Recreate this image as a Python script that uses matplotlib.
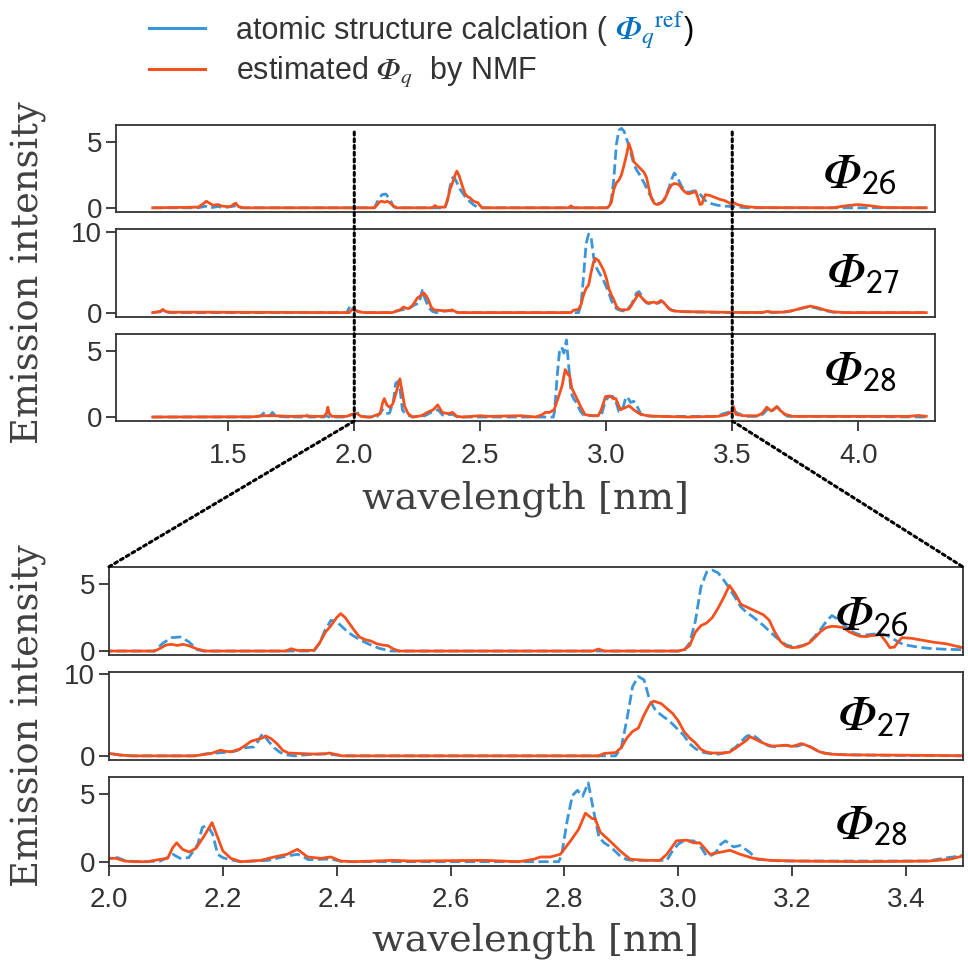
import matplotlib
matplotlib.use('Agg')
import matplotlib.pyplot as plt
from matplotlib.patches import ConnectionPatch

# ---- data (wavelength [nm], intensity) ----
ref26_wl = [1.20, 1.38, 1.41, 1.43, 1.46, 1.48, 1.53, 1.55, 2.08, 2.095, 2.11, 2.125, 2.14, 2.155, 2.165,
            2.36, 2.37, 2.38, 2.39, 2.40, 2.42, 2.44, 2.46, 2.475, 2.495, 3.01, 3.02, 3.03, 3.04, 3.05,
            3.06, 3.07, 3.08, 3.09, 3.10, 3.11, 3.12, 3.13, 3.14, 3.15, 3.16, 3.17, 3.18, 3.19, 3.20,
            3.21, 3.22, 3.23, 3.24, 3.25, 3.26, 3.27, 3.28, 3.29, 3.30, 3.31, 3.32, 3.33, 3.34, 3.35,
            3.36, 3.37, 3.38, 3.39, 3.40, 3.42, 3.44, 3.47, 3.50, 3.53, 3.56, 4.27]
ref26 = [0.0, 0.0, 0.12, 0.0, 0.1, 0.0, 0.15, 0.0, 0.0, 0.6, 1.0, 1.05, 0.7, 0.1, 0.0,
         0.0, 0.6, 1.6, 2.3, 2.2, 1.4, 0.85, 0.45, 0.2, 0.0, 0.0, 0.6, 2.2, 4.8, 5.9,
         6.05, 5.85, 5.3, 4.7, 4.0, 3.3, 2.9, 2.6, 2.25, 1.9, 1.5, 1.1, 0.75, 0.45, 0.35,
         0.35, 0.42, 0.65, 1.1, 1.6, 2.2, 2.65, 2.4, 2.0, 1.6, 1.35, 1.2, 1.2, 1.25, 1.3,
         1.25, 1.1, 0.85, 0.6, 0.45, 0.3, 0.2, 0.13, 0.1, 0.05, 0.0, 0.0]

nmf26_wl = [1.20, 1.38, 1.40, 1.413, 1.43, 1.44, 1.46, 1.47, 1.49, 1.51, 1.52, 1.53, 1.54, 1.56,
            2.08, 2.09, 2.10, 2.11, 2.12, 2.13, 2.14, 2.155, 2.17, 2.31, 2.32, 2.33, 2.36, 2.37,
            2.38, 2.39, 2.40, 2.407, 2.415, 2.43, 2.44, 2.45, 2.46, 2.47, 2.48, 2.49, 2.50, 2.51,
            2.85, 2.86, 2.87, 3.00, 3.01, 3.02, 3.03, 3.04, 3.05, 3.06, 3.07, 3.08, 3.09, 3.10,
            3.11, 3.12, 3.13, 3.14, 3.15, 3.16, 3.17, 3.18, 3.19, 3.20, 3.21, 3.22, 3.23, 3.24,
            3.25, 3.26, 3.27, 3.28, 3.29, 3.30, 3.31, 3.32, 3.33, 3.34, 3.35, 3.355, 3.365, 3.372,
            3.38, 3.385, 3.393, 3.41, 3.43, 3.45, 3.47, 3.49, 3.50, 3.505, 3.52, 3.55, 3.60, 3.90,
            3.95, 4.00, 4.05, 4.10, 4.27]
nmf26 = [0.0, 0.05, 0.3, 0.5, 0.3, 0.2, 0.25, 0.15, 0.1, 0.1, 0.25, 0.35, 0.1, 0.0,
         0.0, 0.2, 0.45, 0.5, 0.42, 0.5, 0.4, 0.15, 0.0, 0.0, 0.17, 0.05, 0.05, 0.6,
         1.4, 1.9, 2.5, 2.8, 2.5, 1.6, 1.05, 0.85, 0.75, 0.55, 0.45, 0.4, 0.15, 0.0,
         0.0, 0.15, 0.0, 0.0, 0.1, 0.4, 1.4, 1.9, 2.1, 2.5, 3.2, 4.0, 4.9, 4.3,
         3.5, 3.3, 3.1, 2.9, 2.7, 2.3, 1.4, 0.7, 0.35, 0.25, 0.28, 0.4, 0.6, 1.0,
         1.45, 1.75, 1.85, 1.82, 1.75, 1.45, 1.25, 1.1, 1.08, 1.15, 1.2, 1.25, 0.7, 0.25,
         0.3, 0.6, 1.0, 0.95, 0.8, 0.65, 0.55, 0.35, 0.25, 0.4, 0.25, 0.1, 0.02, 0.0,
         0.15, 0.25, 0.15, 0.02, 0.0]

ref27_wl = [1.20, 1.23, 1.24, 1.25, 1.27, 1.97, 1.985, 2.00, 2.02, 2.04, 2.15, 2.17, 2.20, 2.22,
            2.24, 2.255, 2.262, 2.27, 2.28, 2.29, 2.30, 2.31, 2.325, 2.35, 2.38, 2.40, 2.42, 2.89,
            2.90, 2.91, 2.92, 2.93, 2.94, 2.95, 2.96, 2.97, 2.98, 2.99, 3.00, 3.01, 3.02, 3.03,
            3.04, 3.05, 3.06, 3.07, 3.08, 3.09, 3.10, 3.11, 3.12, 3.13, 3.14, 3.15, 3.16, 3.17,
            3.18, 3.19, 3.20, 3.21, 3.22, 3.23, 3.24, 3.25, 3.26, 3.28, 3.35, 3.50, 3.62, 3.64,
            3.66, 3.72, 3.76, 3.80, 3.83, 3.86, 3.90, 3.95, 4.27]
ref27 = [0.0, 0.1, 0.3, 0.1, 0.0, 0.0, 0.9, 0.3, 0.1, 0.0, 0.0, 0.25, 0.4, 0.55,
         1.0, 1.1, 1.8, 2.75, 1.8, 1.0, 0.45, 0.15, 0.0, 0.15, 0.25, 0.1, 0.0, 0.0,
         1.0, 4.5, 8.5, 9.7, 9.3, 6.8, 5.6, 5.0, 4.5, 3.9, 3.2, 2.5, 1.5, 0.9,
         0.5, 0.35, 0.25, 0.2, 0.35, 0.6, 1.0, 1.7, 2.4, 2.6, 2.1, 1.5, 1.2, 1.1,
         1.25, 1.3, 1.15, 1.2, 1.45, 1.2, 0.8, 0.5, 0.3, 0.15, 0.08, 0.0, 0.0, 0.1,
         0.0, 0.1, 0.4, 0.7, 0.6, 0.3, 0.05, 0.0, 0.0]

nmf27_wl = [1.20, 1.23, 1.24, 1.25, 1.27, 1.40, 1.98, 1.995, 2.00, 2.02, 2.04, 2.15, 2.17, 2.18,
            2.19, 2.196, 2.205, 2.215, 2.23, 2.24, 2.25, 2.26, 2.27, 2.275, 2.285, 2.295, 2.305, 2.315,
            2.33, 2.36, 2.38, 2.387, 2.40, 2.41, 2.86, 2.87, 2.89, 2.90, 2.91, 2.92, 2.93, 2.94,
            2.95, 2.957, 2.97, 2.98, 2.99, 3.00, 3.01, 3.02, 3.03, 3.04, 3.05, 3.06, 3.08, 3.09,
            3.10, 3.11, 3.12, 3.126, 3.135, 3.145, 3.155, 3.165, 3.18, 3.19, 3.20, 3.21, 3.216, 3.225,
            3.235, 3.245, 3.255, 3.27, 3.30, 3.40, 3.50, 3.62, 3.64, 3.66, 3.70, 3.74, 3.78, 3.81,
            3.84, 3.87, 3.90, 3.95, 4.27]
nmf27 = [0.0, 0.15, 0.4, 0.15, 0.05, 0.05, 0.0, 0.5, 0.3, 0.1, 0.0, 0.0, 0.2, 0.3,
         0.55, 0.7, 0.55, 0.5, 0.85, 1.3, 1.8, 2.0, 2.2, 2.45, 2.1, 1.5, 0.7, 0.35,
         0.3, 0.22, 0.25, 0.35, 0.15, 0.0, 0.0, 0.3, 0.4, 1.0, 2.2, 3.0, 3.4, 5.0,
         6.3, 6.7, 6.4, 5.8, 5.2, 4.3, 3.0, 2.2, 1.6, 0.8, 0.45, 0.35, 0.35, 0.45,
         0.9, 1.4, 1.9, 2.35, 2.05, 1.7, 1.4, 1.2, 1.25, 1.3, 1.15, 1.35, 1.5, 1.3,
         1.0, 0.6, 0.35, 0.2, 0.12, 0.08, 0.02, 0.02, 0.15, 0.05, 0.05, 0.25, 0.6, 0.8,
         0.6, 0.3, 0.1, 0.0, 0.0]

ref28_wl = [1.20, 1.60, 1.63, 1.64, 1.65, 1.665, 1.675, 1.69, 1.74, 1.75, 1.76, 1.80, 1.81, 1.82,
            1.88, 1.89, 1.90, 1.97, 1.99, 2.00, 2.015, 2.03, 2.06, 2.09, 2.10, 2.112, 2.125, 2.14,
            2.15, 2.156, 2.164, 2.173, 2.182, 2.191, 2.20, 2.21, 2.23, 2.28, 2.30, 2.313, 2.331, 2.34,
            2.35, 2.39, 2.41, 2.79, 2.795, 2.805, 2.814, 2.823, 2.832, 2.842, 2.849, 2.855, 2.861, 2.87,
            2.881, 2.89, 2.898, 2.91, 2.92, 2.98, 2.99, 3.00, 3.01, 3.027, 3.038, 3.05, 3.06, 3.068,
            3.075, 3.083, 3.097, 3.109, 3.126, 3.138, 3.18, 3.44, 3.465, 3.495, 3.50, 3.52, 3.55, 3.60,
            3.62, 3.64, 3.655, 3.67, 3.68, 3.70, 3.72, 3.80, 4.27]
ref28 = [0.0, 0.0, 0.1, 0.3, 0.05, 0.1, 0.35, 0.05, 0.0, 0.15, 0.0, 0.0, 0.15, 0.0,
         0.0, 0.1, 0.0, 0.0, 0.2, 0.25, 0.3, 0.05, 0.0, 0.05, 0.25, 0.55, 0.25, 0.3,
         0.9, 1.3, 2.55, 2.7, 2.05, 0.55, 0.3, 0.18, 0.0, 0.1, 0.3, 0.42, 0.55, 0.4,
         0.15, 0.2, 0.0, 0.0, 0.45, 3.05, 4.9, 5.3, 4.85, 5.85, 4.3, 3.0, 1.8, 1.4,
         1.1, 0.75, 0.42, 0.15, 0.1, 0.1, 0.8, 1.3, 1.55, 1.55, 1.2, 0.42, 0.5, 0.8,
         1.3, 1.55, 1.1, 1.2, 0.68, 0.18, 0.05, 0.05, 0.25, 0.42, 0.5, 0.3, 0.05, 0.05,
         0.2, 0.6, 0.4, 0.65, 0.75, 0.3, 0.05, 0.05, 0.0]

nmf28_wl = [1.20, 1.60, 1.64, 1.68, 1.75, 1.81, 1.85, 1.88, 1.89, 1.895, 1.90, 1.91, 1.97, 1.99,
            2.00, 2.012, 2.027, 2.044, 2.068, 2.08, 2.091, 2.103, 2.112, 2.119, 2.129, 2.141, 2.153, 2.167,
            2.181, 2.191, 2.20, 2.214, 2.232, 2.267, 2.29, 2.313, 2.331, 2.349, 2.372, 2.39, 2.407, 2.43,
            2.50, 2.53, 2.66, 2.72, 2.746, 2.758, 2.775, 2.793, 2.811, 2.825, 2.837, 2.849, 2.854, 2.863,
            2.881, 2.898, 2.916, 2.945, 2.968, 2.98, 2.997, 3.015, 3.027, 3.038, 3.056, 3.074, 3.091, 3.109,
            3.132, 3.161, 3.208, 3.325, 3.442, 3.477, 3.50, 3.505, 3.515, 3.545, 3.60, 3.62, 3.637, 3.655,
            3.677, 3.69, 3.71, 3.74, 4.00, 4.20, 4.24, 4.27]
nmf28 = [0.0, 0.02, 0.1, 0.1, 0.05, 0.08, 0.05, 0.05, 0.3, 0.75, 0.3, 0.05, 0.05, 0.2,
         0.25, 0.25, 0.05, 0.0, 0.0, 0.1, 0.18, 0.25, 1.05, 1.4, 0.92, 0.72, 1.0, 1.9,
         2.9, 1.8, 0.8, 0.25, 0.0, 0.1, 0.35, 0.55, 0.92, 0.35, 0.25, 0.35, 0.05, 0.0,
         0.1, 0.05, 0.1, 0.0, 0.18, 0.35, 0.35, 0.55, 1.55, 2.4, 3.6, 3.2, 3.2, 2.2,
         1.5, 0.8, 0.18, 0.1, 0.1, 0.55, 1.55, 1.6, 1.4, 1.4, 0.55, 0.7, 0.85, 0.55,
         0.25, 0.1, 0.05, 0.0, 0.05, 0.18, 0.42, 0.8, 0.2, 0.1, 0.1, 0.3, 0.75, 0.45,
         0.8, 0.5, 0.2, 0.05, 0.05, 0.05, 0.12, 0.05]

ref_series = [(ref26_wl, ref26), (ref27_wl, ref27), (ref28_wl, ref28)]
nmf_series = [(nmf26_wl, nmf26), (nmf27_wl, nmf27), (nmf28_wl, nmf28)]
PHI = '\U0001D6F7'  # mathematical italic capital phi
panel_names = ['$\\mathrm{' + PHI + '}_{\\mathsf{' + q + '}}$' for q in ('26', '27', '28')]
y_limits = [(-0.3, 6.3), (-0.5, 10.3), (-0.3, 6.3)]
y_ticks = [[0, 5], [0, 10], [0, 5]]

top_xticks = [1.5, 2.0, 2.5, 3.0, 3.5, 4.0]
bottom_xticks = [2.0, 2.2, 2.4, 2.6, 2.8, 3.0, 3.2, 3.4]

BLUE = '#3a96d8'
ORANGE = '#f4511e'
GREY = '#333333'
LABEL_GREY = '#404040'

plt.rcParams['font.family'] = ['Liberation Sans Narrow', 'Liberation Sans', 'DejaVu Sans']
plt.rcParams['mathtext.fontset'] = 'stix'
plt.rcParams['axes.edgecolor'] = GREY
plt.rcParams['axes.linewidth'] = 1.3
plt.rcParams['xtick.color'] = GREY
plt.rcParams['ytick.color'] = GREY

fig = plt.figure(figsize=(9.68, 9.66), dpi=100)

top_rects = [[0.120, 0.7808, 0.846, 0.0897],
             [0.120, 0.6722, 0.846, 0.0905],
             [0.120, 0.5642, 0.846, 0.0901]]
bot_rects = [[0.1126, 0.3219, 0.882, 0.0914],
             [0.1126, 0.2133, 0.882, 0.0914],
             [0.1126, 0.1038, 0.882, 0.0920]]
top_name_pos = [(0.908, 0.42), (0.912, 0.48), (0.908, 0.56)]
bot_name_pos = [(0.893, 0.43), (0.896, 0.476), (0.893, 0.446)]


def draw_group(rects, xlim, xticks, name_pos, ylabel_x, xlabel_y, xpad):
    axes = []
    for i, rect in enumerate(rects):
        ax = fig.add_axes(rect)
        ax.plot(ref_series[i][0], ref_series[i][1], color=BLUE, lw=2, ls='--')
        ax.plot(nmf_series[i][0], nmf_series[i][1], color=ORANGE, lw=2)
        ax.set_xlim(xlim)
        ax.set_ylim(y_limits[i])
        ax.set_yticks(y_ticks[i])
        ax.tick_params(axis='y', labelsize=20, length=7, width=1.3, pad=3)
        ax.tick_params(axis='x', labelsize=20, length=7, width=1.3, pad=xpad)
        if i < 2:
            ax.set_xticks([])
        else:
            ax.set_xticks(xticks)
            ax.set_xticklabels(['%.1f' % t for t in xticks])
        ax.text(name_pos[i][0], name_pos[i][1], panel_names[i], transform=ax.transAxes,
                fontsize=35, ha='center', va='center', color='black')
        axes.append(ax)
    axes[1].set_ylabel('Emission intensity', family='DejaVu Serif', fontsize=26.5,
                       color=LABEL_GREY)
    axes[1].yaxis.set_label_coords(ylabel_x, 0.5)
    axes[2].set_xlabel('wavelength [nm]', family='DejaVu Serif', fontsize=27.5,
                       color=LABEL_GREY)
    axes[2].xaxis.set_label_coords(0.5, xlabel_y)
    return axes


top_axes = draw_group(top_rects, (1.055, 4.305), top_xticks, top_name_pos, -0.085, -0.68, 9)
bot_axes = draw_group(bot_rects, (2.0, 3.5), bottom_xticks, bot_name_pos, -0.073, -0.64, 8)

# dotted zoom indicators
dot = dict(color='black', lw=2.2, ls=(0, (1, 1.2)))
for xv in (2.0, 3.5):
    con = ConnectionPatch(xyA=(xv, 0.92), coordsA=top_axes[0].get_xaxis_transform(),
                          xyB=(xv, 0.0), coordsB=top_axes[2].get_xaxis_transform(), **dot)
    fig.add_artist(con)
    con = ConnectionPatch(xyA=(xv, 0.0), coordsA=top_axes[2].get_xaxis_transform(),
                          xyB=(xv, 1.0), coordsB=bot_axes[0].get_xaxis_transform(), **dot)
    fig.add_artist(con)

# legend
handles = [plt.Line2D([], [], color=BLUE, lw=2.2), plt.Line2D([], [], color=ORANGE, lw=2.2)]
labels = ['atomic structure calclation ( ',
          'estimated $\\mathrm{' + PHI + '}_{q}$  by NMF']
leg = fig.legend(handles, labels, loc='upper left', bbox_to_anchor=(0.125, 1.012),
                 frameon=False, fontsize=22, handlelength=1.85, handletextpad=1.0,
                 labelspacing=0.3, labelcolor=GREY)

fig.canvas.draw()
renderer = fig.canvas.get_renderer()
bb = leg.get_texts()[0].get_window_extent(renderer).transformed(fig.transFigure.inverted())
t = fig.text(bb.x1, (bb.y0 + bb.y1) / 2, '$\\mathrm{' + PHI + '}_{q}{}^{\\mathrm{ref}}$',
             color='#0070c0', fontsize=24, va='center', ha='left')
fig.canvas.draw()
bb2 = t.get_window_extent(renderer).transformed(fig.transFigure.inverted())
fig.text(bb2.x1, (bb.y0 + bb.y1) / 2, ')', color='black', fontsize=22, va='center', ha='left')

fig.savefig('out.png', dpi=100)
